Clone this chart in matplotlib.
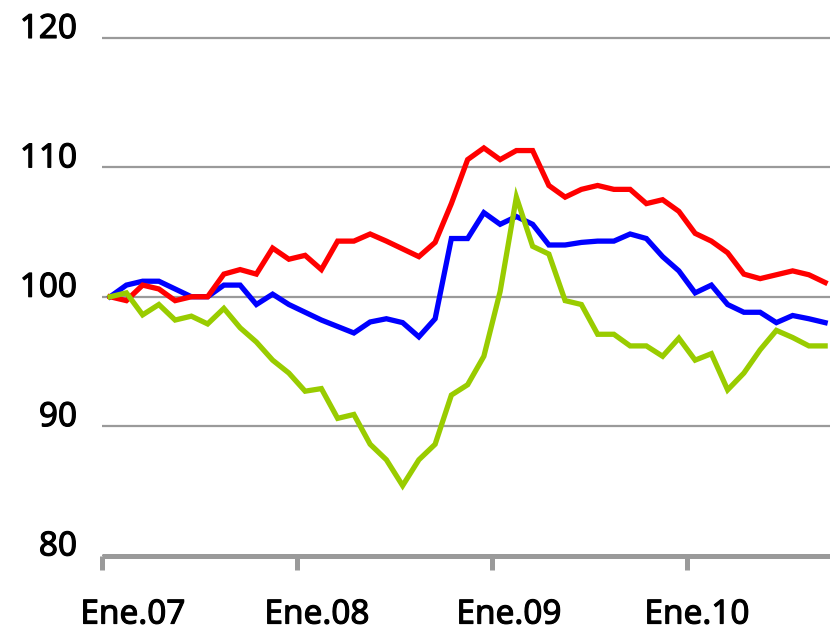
import matplotlib
matplotlib.use("Agg")
import matplotlib.pyplot as plt
import matplotlib.transforms as mtransforms
import matplotlib.patheffects as pe
import numpy as np

# indices mensuales, Ene.07 = 100
rojo = [100.0, 99.7, 100.9, 100.6, 99.7, 100.0, 100.0, 101.75, 102.1, 101.75,
        103.76, 102.9, 103.2, 102.1, 104.3, 104.3, 104.85, 104.3, 103.7, 103.1,
        104.2, 107.2, 110.6, 111.5, 110.6, 111.3, 111.3, 108.6, 107.7, 108.3,
        108.6, 108.3, 108.3, 107.2, 107.5, 106.6, 104.9, 104.3, 103.4, 101.75,
        101.4, 101.7, 102.0, 101.7, 101.1]
azul = [100.0, 100.9, 101.2, 101.2, 100.6, 100.0, 100.0, 100.9, 100.9, 99.4,
        100.2, 99.4, 98.8, 98.2, 97.7, 97.2, 98.05, 98.3, 98.0, 96.9,
        98.3, 104.5, 104.5, 106.5, 105.6, 106.2, 105.6, 104.0, 104.0, 104.2,
        104.3, 104.3, 104.85, 104.5, 103.1, 102.0, 100.3, 100.9, 99.4, 98.8,
        98.8, 98.0, 98.55, 98.3, 98.0]
verde = [100.0, 100.3, 98.6, 99.4, 98.2, 98.5, 97.9, 99.1, 97.6, 96.5,
         95.1, 94.1, 92.7, 92.9, 90.6, 90.9, 88.6, 87.4, 85.4, 87.4,
         88.6, 92.4, 93.2, 95.4, 100.4, 107.7, 103.9, 103.3, 99.7, 99.4,
         97.1, 97.1, 96.2, 96.2, 95.4, 96.8, 95.1, 95.6, 92.8, 94.1,
         95.9, 97.4, 96.85, 96.2, 96.2]

etiquetas_x = ["Ene.07", "Ene.08", "Ene.09", "Ene.10"]
valores_y = [80, 90, 100, 110, 120]

plt.rcParams['font.family'] = ['Noto Sans', 'DejaVu Sans']

fig = plt.figure(figsize=(8.30, 6.32), dpi=100)
ax = fig.add_axes([102/830, 76.5/632, 1 - 102/830, (517.5 + 0.2*12.94)/632])

meses = np.arange(len(rojo))
ax.plot(meses, azul, color='#0000ff', lw=3.8, solid_joinstyle='miter')
ax.plot(meses, rojo, color='#ff0000', lw=3.8, solid_joinstyle='miter')
ax.plot(meses, verde, color='#99cc00', lw=3.8, solid_joinstyle='miter')

ax.set_xlim(-0.5, -0.5 + 728/16.25)
ax.set_ylim(80, 120.2)

for s in ['top', 'right', 'left']:
    ax.spines[s].set_visible(False)
ax.spines['bottom'].set_color('#9a9a9a')
ax.spines['bottom'].set_linewidth(3.6)
ax.spines['bottom'].set_capstyle('butt')

# gridlines
ax.set_yticks(valores_y)
ax.set_yticklabels([str(v) for v in valores_y])
ax.yaxis.grid(True, color='#9a9a9a', lw=1.6)
ax.set_axisbelow(True)
ax.tick_params(axis='y', length=0, pad=18, labelsize=24, labelcolor='black')
plt.setp(ax.get_yticklabels(), va='baseline')

# ticks every 12 months, between categories
ax.set_xticks([-0.5 + 12*k for k in range(len(etiquetas_x))])
ax.set_xticklabels(etiquetas_x)
ax.tick_params(axis='x', direction='out', length=10, width=3.6, color='#9a9a9a',
               pad=21, labelsize=24, labelcolor='black')
desplaz = [31, 20, 17, 10]
for t, dx in zip(ax.get_xticklabels(), desplaz):
    t.set_transform(t.get_transform() + mtransforms.ScaledTranslation(dx/100, 0, fig.dpi_scale_trans))

# slightly heavier labels
grueso = [pe.withStroke(linewidth=0.8, foreground='black')]
for t in ax.get_xticklabels() + ax.get_yticklabels():
    t.set_path_effects(grueso)

fig.savefig("out.png", dpi=100)
